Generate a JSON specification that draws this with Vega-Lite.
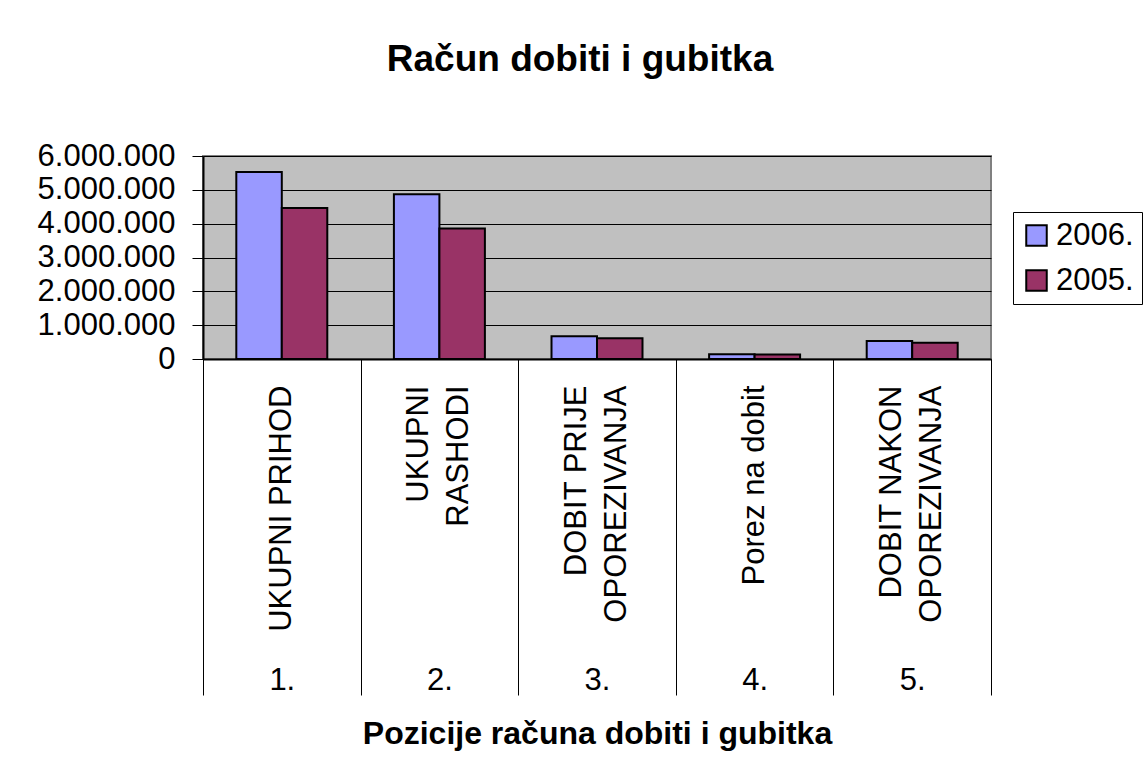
{
  "$schema": "https://vega.github.io/schema/vega-lite/v6.json",
  "width": 788,
  "height": 203,
  "autosize": {"type": "none"},
  "padding": {"left": 203, "top": 156, "right": 154, "bottom": 417},
  "background": "white",
  "title": {
    "text": "Račun dobiti i gubitka",
    "font": "Liberation Sans",
    "fontSize": 37,
    "fontWeight": "bold",
    "color": "black",
    "anchor": "middle",
    "frame": "group",
    "baseline": "alphabetic",
    "dx": -17,
    "offset": 32
  },
  "data": {
    "values": [
      {"pozicija": "1.|UKUPNI PRIHOD", "godina": "2006.", "iznos": 5530000},
      {"pozicija": "1.|UKUPNI PRIHOD", "godina": "2005.", "iznos": 4460000},
      {"pozicija": "2.|UKUPNI|RASHODI", "godina": "2006.", "iznos": 4870000},
      {"pozicija": "2.|UKUPNI|RASHODI", "godina": "2005.", "iznos": 3860000},
      {"pozicija": "3.|DOBIT PRIJE|OPOREZIVANJA", "godina": "2006.", "iznos": 670000},
      {"pozicija": "3.|DOBIT PRIJE|OPOREZIVANJA", "godina": "2005.", "iznos": 610000},
      {"pozicija": "4.|Porez na dobit", "godina": "2006.", "iznos": 140000},
      {"pozicija": "4.|Porez na dobit", "godina": "2005.", "iznos": 130000},
      {"pozicija": "5.|DOBIT NAKON|OPOREZIVANJA", "godina": "2006.", "iznos": 530000},
      {"pozicija": "5.|DOBIT NAKON|OPOREZIVANJA", "godina": "2005.", "iznos": 480000}
    ]
  },
  "config": {
    "font": "Liberation Sans",
    "view": {"fill": "#C0C0C0", "stroke": "#808080", "strokeWidth": 2}
  },
  "resolve": {"axis": {"x": "independent"}},
  "layer": [
    {
      "mark": {"type": "bar", "stroke": "black", "strokeWidth": 2},
      "encoding": {
        "x": {
          "field": "pozicija",
          "type": "nominal",
          "sort": null,
          "scale": {"paddingInner": 0, "paddingOuter": 0},
          "axis": {
            "title": null,
            "orient": "bottom",
            "labelAngle": -90,
            "labelAlign": "right",
            "labelBaseline": "middle",
            "labelExpr": "slice(split(datum.value, '|'), 1)",
            "labelOffset": {"condition": {"test": "length(split(datum.value, '|')) > 2", "value": -20}, "value": 0},
            "ticks": false,
            "domain": false,
            "grid": false,
            "labelPadding": 26,
            "labelFont": "Liberation Sans",
            "labelFontSize": 31,
            "labelColor": "black",
            "labelLineHeight": 40,
            "labelLimit": 0,
            "labelOverlap": false
          }
        },
        "xOffset": {"field": "godina", "sort": ["2006.", "2005."], "scale": {"paddingInner": 0, "paddingOuter": 0.732}},
        "y": {
          "field": "iznos",
          "type": "quantitative",
          "scale": {"domain": [0, 6000000]},
          "axis": {
            "title": null,
            "values": [0, 1000000, 2000000, 3000000, 4000000, 5000000, 6000000],
            "labelExpr": "replace(format(datum.value, ','), /,/g, '.')",
            "labelFont": "Liberation Sans",
            "labelFontSize": 31,
            "labelColor": "black",
            "labelPadding": 17,
            "labelOverlap": false,
            "tickSize": 11,
            "tickColor": "black",
            "tickWidth": 1,
            "domainColor": "black",
            "domainWidth": 2,
            "grid": true,
            "gridColor": "black",
            "gridWidth": 1
          }
        },
        "color": {
          "field": "godina",
          "type": "nominal",
          "scale": {"domain": ["2006.", "2005."], "range": ["#9999FF", "#993366"]},
          "legend": {
            "title": null,
            "orient": "none",
            "legendX": 810,
            "legendY": 56,
            "strokeColor": "black",
            "padding": 8,
            "symbolType": "square",
            "symbolSize": 420,
            "symbolStrokeColor": "black",
            "symbolStrokeWidth": 2,
            "labelFont": "Liberation Sans",
            "labelFontSize": 31,
            "labelColor": "black",
            "labelOffset": 4,
            "rowPadding": 13
          }
        }
      }
    },
    {
      "mark": {"type": "point", "opacity": 0},
      "encoding": {
        "x": {
          "field": "pozicija",
          "type": "nominal",
          "sort": null,
          "axis": {
            "title": "Pozicije računa dobiti i gubitka",
            "orient": "bottom",
            "labelExpr": "isValid(datum.value) ? split(datum.value, '|')[0] : ''",
            "labelAngle": 0,
            "labelAlign": "center",
            "labelBaseline": "top",
            "tickBand": "extent",
            "tickSize": 336,
            "tickColor": "black",
            "tickWidth": 1,
            "domainColor": "black",
            "domainWidth": 2,
            "grid": false,
            "labelPadding": -30,
            "labelFont": "Liberation Sans",
            "labelFontSize": 31,
            "labelColor": "black",
            "labelOverlap": false,
            "titleFont": "Liberation Sans",
            "titleFontSize": 32,
            "titleFontWeight": "bold",
            "titleColor": "black",
            "titleBaseline": "alphabetic",
            "titleY": 384
          }
        }
      }
    }
  ]
}
